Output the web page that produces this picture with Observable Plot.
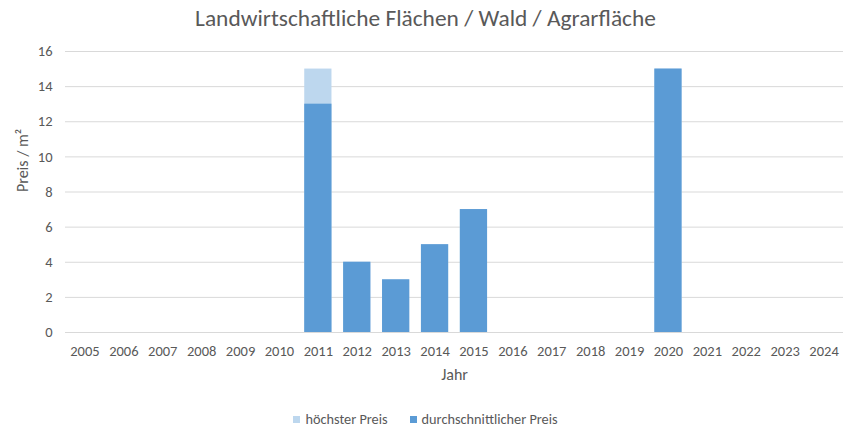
<!DOCTYPE html>
<html>
<head>
<meta charset="utf-8">
<script src="https://cdn.jsdelivr.net/npm/d3@7"></script>
<script src="https://cdn.jsdelivr.net/npm/@observablehq/plot@0.6"></script>
<style>
  body { margin: 0; background: #fff; font-family: Carlito, "Open Sans", sans-serif; }
  #title { height: 38px; text-align: center; font-size: 23.4px; color: #595959; line-height: 36px; }
  #legend { display: flex; justify-content: center; gap: 22px; font-size: 14.3px; color: #595959; margin-top: 12px; }
  #legend span.sw { display: inline-block; width: 7px; height: 7px; margin-right: 5px; vertical-align: 1px; }
</style>
</head>
<body>
<div id="title">Landwirtschaftliche Flächen / Wald / Agrarfläche</div>
<div id="chart"></div>
<div id="legend">
  <div><span class="sw" style="background:#bdd7ee"></span>höchster Preis</div>
  <div><span class="sw" style="background:#5b9bd5"></span>durchschnittlicher Preis</div>
</div>
<script>
const years = ["2005","2006","2007","2008","2009","2010","2011","2012","2013","2014","2015","2016","2017","2018","2019","2020","2021","2022","2023","2024"];
const highest = [null,null,null,null,null,null,15,4,3,5,7,null,null,null,null,15,null,null,null,null];
const average = [null,null,null,null,null,null,13,4,3,5,7,null,null,null,null,15,null,null,null,null];
const yTicks = [0,2,4,6,8,10,12,14,16];

const hiData = years.map((y,i)=>({year:y, v:highest[i]})).filter(d=>d.v!=null);
const avData = years.map((y,i)=>({year:y, v:average[i]})).filter(d=>d.v!=null);

const chart = Plot.plot({
  width: 851,
  height: 360,
  marginTop: 13,
  marginBottom: 66,
  marginLeft: 65,
  marginRight: 8,
  style: { fontFamily: 'Carlito, "Open Sans", sans-serif', fontSize: "14.5px", color: "#595959", background: "#fff" },
  x: { domain: years, paddingInner: 0.3, paddingOuter: 0.15, round: false },
  y: { domain: [0,16] },
  marks: [
    Plot.gridY(yTicks, { stroke: "#d9d9d9", strokeOpacity: 1 }),
    Plot.barY(hiData, { x: "year", y: "v", fill: "#bdd7ee" }),
    Plot.barY(avData, { x: "year", y: "v", fill: "#5b9bd5" }),
    Plot.axisY({ ticks: yTicks, tickSize: 0, tickPadding: 13, label: null, fill: "#595959" }),
    Plot.axisX({ tickSize: 0, tickPadding: 13, label: null, fill: "#595959" }),
    Plot.text(["Preis / m²"], { frameAnchor: "left", dx: -43, rotate: -90, fontSize: 16, fill: "#595959" }),
    Plot.text(["Jahr"], { frameAnchor: "bottom", dy: 47, fontSize: 16, fill: "#595959" })
  ]
});
document.getElementById("chart").appendChild(chart);
</script>
</body>
</html>
